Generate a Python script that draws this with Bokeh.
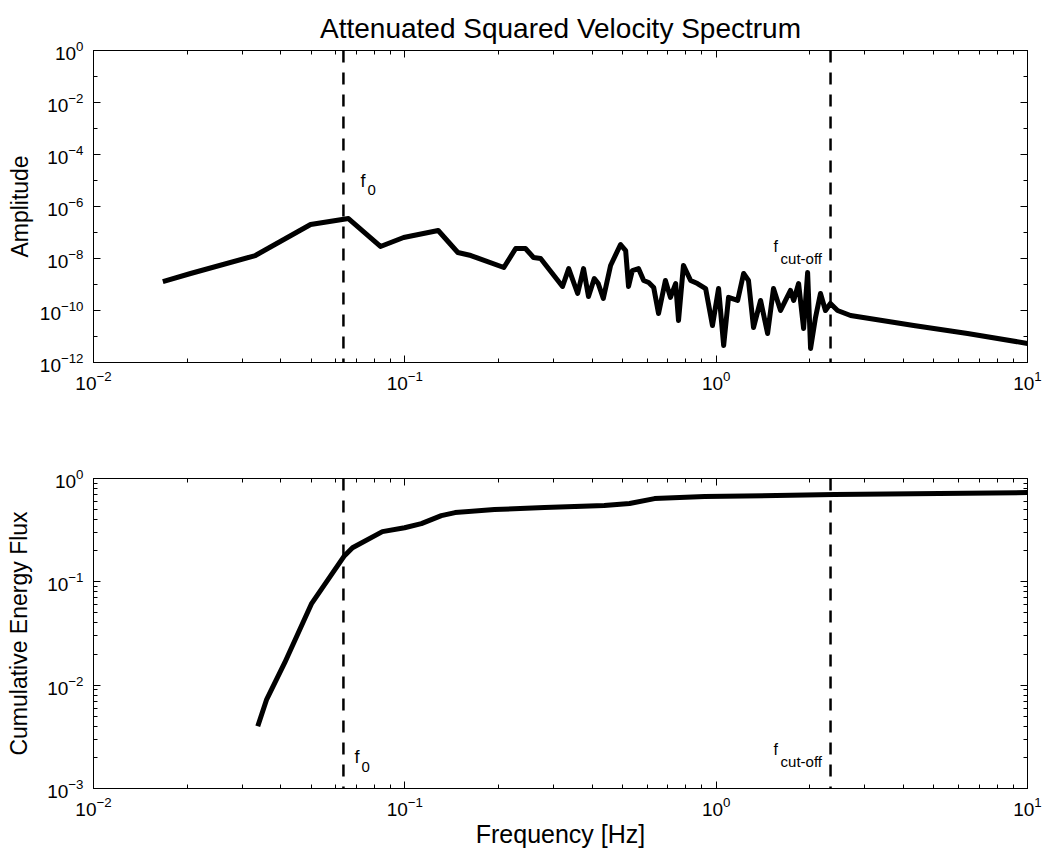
from bokeh.plotting import figure
from bokeh.layouts import column
from bokeh.models import (Span, Label, FixedTicker, LogTicker, LogTickFormatter, LogAxis,
                          Range1d, CustomJSTickFormatter)
from bokeh.embed import file_html
from bokeh.resources import INLINE

# ---------------- data ----------------
# Top panel: attenuated squared velocity spectrum
spec_freq = [0.0167, 0.0205, 0.0331, 0.0498, 0.0659, 0.0835, 0.0991, 0.128, 0.148, 0.163,
             0.208, 0.227, 0.244, 0.259, 0.273, 0.321, 0.336, 0.359, 0.375, 0.389,
             0.406, 0.418, 0.434, 0.458, 0.493, 0.512, 0.523, 0.538, 0.563, 0.585,
             0.607, 0.630, 0.653, 0.687, 0.713, 0.741, 0.757, 0.785, 0.828, 0.871,
             0.925, 0.973, 1.018, 1.057, 1.096, 1.172, 1.225, 1.270, 1.318, 1.389,
             1.463, 1.528, 1.610, 1.670, 1.733, 1.774, 1.840, 1.909, 1.967, 2.010,
             2.085, 2.163, 2.244, 2.328, 2.454, 2.702, 4.31, 6.42, 10.0]
spec_amp = [1.30e-9, 2.65e-9, 1.30e-8, 2.03e-7, 3.45e-7, 2.9e-8, 6.4e-8, 1.19e-7, 1.70e-8, 1.30e-8,
            4.5e-9, 2.43e-8, 2.43e-8, 1.09e-8, 1.0e-8, 8.4e-10, 4.1e-9, 4.5e-10, 4.1e-9, 3.45e-10,
            1.70e-9, 1.09e-9, 2.9e-10, 5.4e-9, 3.45e-8, 2.03e-8, 8.4e-10, 3.45e-9, 4.1e-9, 1.43e-9,
            1.19e-9, 7.7e-10, 7.7e-11, 1.43e-9, 3.2e-10, 1.09e-9, 4.1e-11, 5.4e-9, 1.43e-9, 1.09e-9,
            7.0e-10, 2.65e-11, 7.0e-10, 4.5e-12, 3.2e-10, 2.43e-10, 2.65e-9, 1.43e-9, 2.22e-11, 2.43e-10,
            1.30e-11, 7.0e-10, 1.0e-10, 2.43e-10, 5.9e-10, 2.43e-10, 1.09e-9, 2.03e-11, 2.9e-9, 3.45e-12,
            5.4e-11, 4.5e-10, 1.0e-10, 1.86e-10, 1.0e-10, 6.4e-11, 2.65e-11, 1.30e-11, 5.4e-12]

# Bottom panel: cumulative energy flux
cum_freq = [0.0337, 0.0360, 0.0411, 0.0501, 0.0640, 0.0679, 0.0847, 0.0998, 0.113, 0.131,
            0.145, 0.194, 0.281, 0.437, 0.527, 0.634, 0.918, 2.40, 10.0]
cum_flux = [4.0e-3, 7.3e-3, 0.0164, 0.0611, 0.179, 0.214, 0.306, 0.334, 0.366, 0.437,
            0.468, 0.500, 0.523, 0.547, 0.572, 0.639, 0.669, 0.699, 0.731]

F0 = 0.0635        # corner frequency
F_CUTOFF = 2.33    # cut-off frequency

x_ticks = [0.01, 0.1, 1, 10]
x_minor = [m * d for d in (0.01, 0.1, 1) for m in range(2, 10)]
top_y_ticks = [1e-12, 1e-10, 1e-8, 1e-6, 1e-4, 1e-2, 1]
top_y_minor = [1e-11, 1e-9, 1e-7, 1e-5, 1e-3, 1e-1]
bot_y_ticks = [1e-3, 1e-2, 1e-1, 1]
bot_y_minor = [m * d for d in (1e-3, 1e-2, 1e-1) for m in range(2, 10)]

FONT = "Liberation Sans"


def style_axis(ax, labels=True):
    ax.major_tick_in = 7
    ax.major_tick_out = 0
    ax.minor_tick_in = 4
    ax.minor_tick_out = 0
    ax.axis_line_color = "black"
    ax.major_tick_line_color = "black"
    ax.minor_tick_line_color = "black"
    ax.major_label_text_font = FONT
    ax.major_label_text_color = "black"
    ax.axis_label_text_font = FONT
    ax.axis_label_text_font_style = "normal"
    ax.axis_label_text_color = "black"
    ax.axis_label_text_font_size = "23px"
    ax.major_label_text_font_size = "19px"
    if not labels:
        ax.formatter = CustomJSTickFormatter(code="return ''")
        ax.major_label_standoff = 0


def make_fig(height, y_rng, yt, ym, top, bottom):
    p = figure(width=1043, height=height, x_axis_type="log", y_axis_type="log",
               x_range=Range1d(0.01, 10), y_range=Range1d(*y_rng),
               output_backend="svg", toolbar_location=None,
               min_border_left=93, min_border_right=16,
               min_border_top=top, min_border_bottom=bottom,
               background_fill_color="white", border_fill_color="white")
    p.grid.visible = False
    p.outline_line_color = "black"
    left, below = p.left[0], p.below[0]
    below.ticker = FixedTicker(ticks=x_ticks, minor_ticks=x_minor)
    left.ticker = FixedTicker(ticks=yt, minor_ticks=ym)
    below.formatter = LogTickFormatter(ticker=LogTicker(base=10))
    left.formatter = LogTickFormatter(ticker=LogTicker(base=10))
    below.major_label_standoff = 8
    left.major_label_standoff = 10
    style_axis(left)
    style_axis(below)
    ra = LogAxis(ticker=FixedTicker(ticks=yt, minor_ticks=ym))
    ta = LogAxis(ticker=FixedTicker(ticks=x_ticks, minor_ticks=x_minor))
    style_axis(ra, False)
    style_axis(ta, False)
    p.add_layout(ra, "right")
    p.add_layout(ta, "above")
    for f in (F0, F_CUTOFF):
        p.add_layout(Span(location=f, dimension="height", line_color="black",
                          line_width=2.5, line_dash="12 10"))
    return p, left, below


# ---------------- top panel ----------------
p1, l1, b1 = make_fig(440, (1e-12, 1), top_y_ticks, top_y_minor, 50, 78)
p1.title.text = "Attenuated Squared Velocity Spectrum"
p1.title.align = "center"
p1.title.vertical_align = "top"
p1.title.text_font = FONT
p1.title.text_font_size = "28px"
p1.title.text_font_style = "normal"
p1.title.text_color = "black"
p1.title.standoff = 10
l1.axis_label = "Amplitude"
l1.axis_label_standoff = 4
p1.line(spec_freq, spec_amp, line_color="black", line_width=5, line_join="round")

TXT = dict(text_font=FONT, text_color="black", text_baseline="middle")
p1.add_layout(Label(x=F0, y=1e-5, x_offset=17, text="f", text_font_size="18px", **TXT))
p1.add_layout(Label(x=F0, y=1e-5, x_offset=24, y_offset=-9, text="0", text_font_size="15px", **TXT))
p1.add_layout(Label(x=F_CUTOFF, y=1e-8, x_offset=-57, y_offset=12, text="f", text_font_size="16px", **TXT))
p1.add_layout(Label(x=F_CUTOFF, y=1e-8, x_offset=-50, y_offset=0, text="cut-off", text_font_size="15px", **TXT))

# ---------------- bottom panel ----------------
p2, l2, b2 = make_fig(416, (1e-3, 1), bot_y_ticks, bot_y_minor, 38, 68)
l2.axis_label = "Cumulative Energy Flux"
l2.axis_label_standoff = 12
b2.axis_label = "Frequency [Hz]"
b2.axis_label_text_font_size = "25px"
b2.axis_label_standoff = 1
p2.line(cum_freq, cum_flux, line_color="black", line_width=5, line_join="round")

p2.add_layout(Label(x=F0, y=2e-3, x_offset=11, text="f", text_font_size="18px", **TXT))
p2.add_layout(Label(x=F0, y=2e-3, x_offset=18, y_offset=-10, text="0", text_font_size="15px", **TXT))
p2.add_layout(Label(x=F_CUTOFF, y=2e-3, x_offset=-57, y_offset=8, text="f", text_font_size="16px", **TXT))
p2.add_layout(Label(x=F_CUTOFF, y=2e-3, x_offset=-50, y_offset=-4, text="cut-off", text_font_size="15px", **TXT))

layout = column(p1, p2, spacing=0)
open("out.html", "w").write(file_html(layout, INLINE))
